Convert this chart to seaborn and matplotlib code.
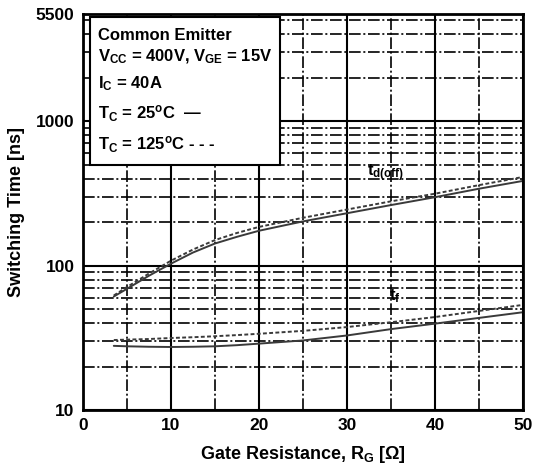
import matplotlib
matplotlib.use("Agg")
import matplotlib.pyplot as plt
import pandas as pd
import seaborn as sns
from matplotlib.patches import Rectangle
from matplotlib.ticker import FixedLocator, LogLocator, MultipleLocator, NullFormatter

# === DATA === #
rg = [3.5, 5, 7.5, 10, 12.5, 15, 17.5, 20, 25, 30, 35, 40, 45, 50]
td_off_25 = [61, 69, 85, 103, 123, 142, 158, 174, 202, 230, 262, 297, 340, 385]
td_off_125 = [62, 71, 88, 108, 129, 150, 168, 185, 214, 244, 278, 314, 360, 410]
tf_25 = [27.8, 27.6, 27.4, 27.3, 27.4, 27.6, 28.1, 28.8, 30.3, 32.8, 36.3, 39.6, 43.4, 47.5]
tf_125 = [30.5, 30.7, 31.0, 31.5, 31.9, 32.4, 33.0, 33.7, 35.3, 37.5, 40.5, 44.0, 48.5, 53.4]

y_ticks = [10, 100, 1000, 5500]
x_ticks = [0, 10, 20, 30, 40, 50]

box_lines = [
    "Common Emitter",
    "V$_{CC}$ = 400V, V$_{GE}$ = 15V",
    "I$_{C}$ = 40A",
    "T$_{C}$ = 25$^{o}$C  —",
    "T$_{C}$ = 125$^{o}$C - - -",
]

# === SETUP === #
sns.set_theme(style="white")
plt.rcParams["font.family"] = ["Liberation Sans", "DejaVu Sans"]
plt.rcParams["font.weight"] = "bold"
plt.rcParams["mathtext.fontset"] = "custom"
plt.rcParams["mathtext.rm"] = "Liberation Sans:bold"
plt.rcParams["mathtext.bf"] = "Liberation Sans:bold"
plt.rcParams["mathtext.default"] = "bf"
for key in ["text.color", "axes.labelcolor", "xtick.color", "ytick.color"]:
    plt.rcParams[key] = "black"

df = pd.concat(
    [
        pd.DataFrame({"rg": rg, "t": td_off_25, "curve": "td_25"}),
        pd.DataFrame({"rg": rg, "t": td_off_125, "curve": "td_125"}),
        pd.DataFrame({"rg": rg, "t": tf_25, "curve": "tf_25"}),
        pd.DataFrame({"rg": rg, "t": tf_125, "curve": "tf_125"}),
    ]
)

fig = plt.figure(figsize=(5.34, 4.75), dpi=100)
ax = fig.add_axes([0.1554, 0.1368, 0.824, 0.8337])

styles = {
    "td_25": "-",
    "td_125": (0, (2, 1.2)),
    "tf_25": "-",
    "tf_125": (0, (2, 1.2)),
}
for name, grp in df.groupby("curve", sort=False):
    sns.lineplot(data=grp, x="rg", y="t", ax=ax, color="#3a3a3a", lw=1.4,
                 linestyle=styles[name], legend=False, zorder=2)

ax.set_yscale("log")
ax.set_xlim(0, 50)
ax.set_ylim(10, 5500)

ax.xaxis.set_major_locator(FixedLocator(x_ticks))
ax.xaxis.set_minor_locator(MultipleLocator(5))
ax.yaxis.set_major_locator(FixedLocator(y_ticks))
ax.yaxis.set_minor_locator(LogLocator(base=10, subs=[2, 3, 4, 5, 6, 7, 8, 9]))
ax.yaxis.set_minor_formatter(NullFormatter())
ax.set_yticklabels([str(v) for v in y_ticks])

ax.set_axisbelow(True)
ax.grid(which="major", color="black", lw=1.5, ls="-")
ax.grid(which="minor", color="black", lw=1.2, ls=(0, (7, 1.6, 1.2, 1.6)))
# 5500 is a tick label only, no solid line there
ax.yaxis.get_gridlines()[-1].set_visible(False)

ax.tick_params(which="both", length=0, labelsize=12.5, pad=6)
for lbl in ax.get_xticklabels() + ax.get_yticklabels():
    lbl.set_fontweight("bold")
for sp in ax.spines.values():
    sp.set_visible(True)
    sp.set_color("black")
    sp.set_linewidth(2)

ax.set_xlabel("Gate Resistance, R$_{G}$ [Ω]", fontsize=13, fontweight="bold", labelpad=8)
ax.set_ylabel("Switching Time [ns]", fontsize=13, fontweight="bold", labelpad=8)

# condition box
ax.add_patch(Rectangle((0.016, 0.619), 0.432, 0.373, transform=ax.transAxes,
                       facecolor="white", edgecolor="black", lw=1.5, zorder=3))
box_y = [0.947, 0.892, 0.823, 0.748, 0.670]
for txt, yy in zip(box_lines, box_y):
    ax.text(0.033, yy, txt, transform=ax.transAxes, fontsize=12, fontweight="bold",
            va="center", ha="left", zorder=4)

ax.text(32.3, 438, "t$_{d(off)}$", fontsize=12, fontweight="bold", va="center", ha="left", zorder=4)
ax.text(34.8, 61, "t$_{f}$", fontsize=12, fontweight="bold", va="center", ha="left", zorder=4)

fig.savefig("out.png", dpi=100)
